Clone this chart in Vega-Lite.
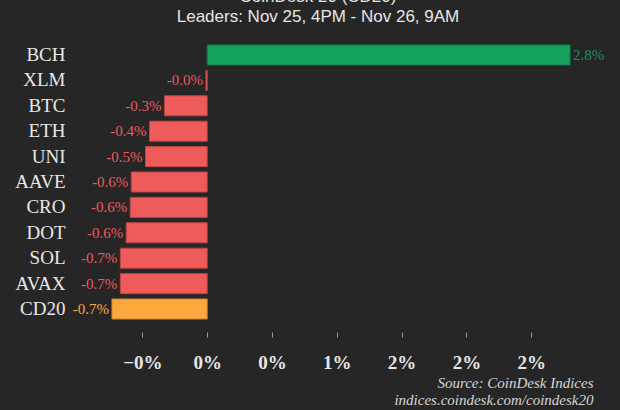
{
  "$schema": "https://vega.github.io/schema/vega-lite/v6.json",
  "width": 504,
  "height": 300,
  "autosize": {"type": "none"},
  "padding": {"left": 89, "top": 32, "right": 27, "bottom": 78},
  "background": "#262626",
  "title": {
    "text": ["CoinDesk 20 (CD20)", "Leaders: Nov 25, 4PM - Nov 26, 9AM"],
    "font": "Liberation Sans",
    "fontSize": 17,
    "fontWeight": "normal",
    "color": "#e6e6e6",
    "anchor": "middle",
    "dx": -23,
    "lineHeight": 20,
    "offset": 6
  },
  "data": {
    "values": [
      {"coin": "BCH", "value": 2.80, "label": "2.8%", "kind": "up"},
      {"coin": "XLM", "value": -0.01, "label": "-0.0%", "kind": "down"},
      {"coin": "BTC", "value": -0.33, "label": "-0.3%", "kind": "down"},
      {"coin": "ETH", "value": -0.445, "label": "-0.4%", "kind": "down"},
      {"coin": "UNI", "value": -0.476, "label": "-0.5%", "kind": "down"},
      {"coin": "AAVE", "value": -0.586, "label": "-0.6%", "kind": "down"},
      {"coin": "CRO", "value": -0.594, "label": "-0.6%", "kind": "down"},
      {"coin": "DOT", "value": -0.625, "label": "-0.6%", "kind": "down"},
      {"coin": "SOL", "value": -0.67, "label": "-0.7%", "kind": "down"},
      {"coin": "AVAX", "value": -0.67, "label": "-0.7%", "kind": "down"},
      {"coin": "CD20", "value": -0.735, "label": "-0.7%", "kind": "index"}
    ]
  },
  "encoding": {
    "y": {
      "field": "coin",
      "type": "nominal",
      "sort": null,
      "scale": {"paddingInner": 0.21, "paddingOuter": 0.51},
      "axis": {
        "title": null,
        "domain": false,
        "ticks": false,
        "labelFont": "Liberation Serif",
        "labelFontSize": 19,
        "labelColor": "#e8e8e8",
        "labelPadding": 24
      }
    },
    "x": {
      "field": "value",
      "type": "quantitative",
      "scale": {"domain": [-0.912, 2.977], "nice": false, "zero": false},
      "axis": {
        "values": [-0.5, 0, 0.5, 1, 1.5, 2, 2.5],
        "labelExpr": "datum.value < 0 ? '−0%' : datum.value == 0.5 ? '0%' : datum.value == 2.5 ? '2%' : format(datum.value, '.0f') + '%'",
        "domain": false,
        "grid": false,
        "tickColor": "#9a9a9a",
        "tickSize": 5,
        "labelFont": "Liberation Serif",
        "labelFontSize": 19,
        "labelFontWeight": "bold",
        "labelColor": "#e6e6e6",
        "labelPadding": 16,
        "title": ["Source: CoinDesk Indices", "indices.coindesk.com/coindesk20"],
        "titleFont": "Liberation Serif",
        "titleFontStyle": "italic",
        "titleFontWeight": "normal",
        "titleFontSize": 15,
        "titleColor": "#d6d6d6",
        "titleAnchor": "end",
        "titleLineHeight": 17,
        "titlePadding": 3
      }
    }
  },
  "layer": [
    {
      "mark": {"type": "bar", "strokeWidth": 1},
      "encoding": {
        "color": {
          "field": "kind",
          "type": "nominal",
          "scale": {"domain": ["up", "down", "index"], "range": ["#15a15e", "#ef5a5a", "#fca83c"]},
          "legend": null
        },
        "stroke": {
          "field": "kind",
          "type": "nominal",
          "scale": {"domain": ["up", "down", "index"], "range": ["#0f7a46", "#b84545", "#c4822e"]},
          "legend": null
        }
      }
    },
    {
      "transform": [{"filter": "datum.value < 0"}],
      "mark": {"type": "text", "align": "right", "baseline": "middle", "dx": -3, "font": "Liberation Serif", "fontSize": 15},
      "encoding": {
        "text": {"field": "label"},
        "color": {
          "field": "kind",
          "type": "nominal",
          "scale": {"domain": ["up", "down", "index"], "range": ["#1c9158", "#cf5252", "#d4962f"]},
          "legend": null
        }
      }
    },
    {
      "transform": [{"filter": "datum.value >= 0"}],
      "mark": {"type": "text", "align": "left", "baseline": "middle", "dx": 3, "font": "Liberation Serif", "fontSize": 15, "color": "#1c9158"},
      "encoding": {
        "text": {"field": "label"}
      }
    }
  ],
  "config": {
    "view": {"stroke": null}
  }
}
